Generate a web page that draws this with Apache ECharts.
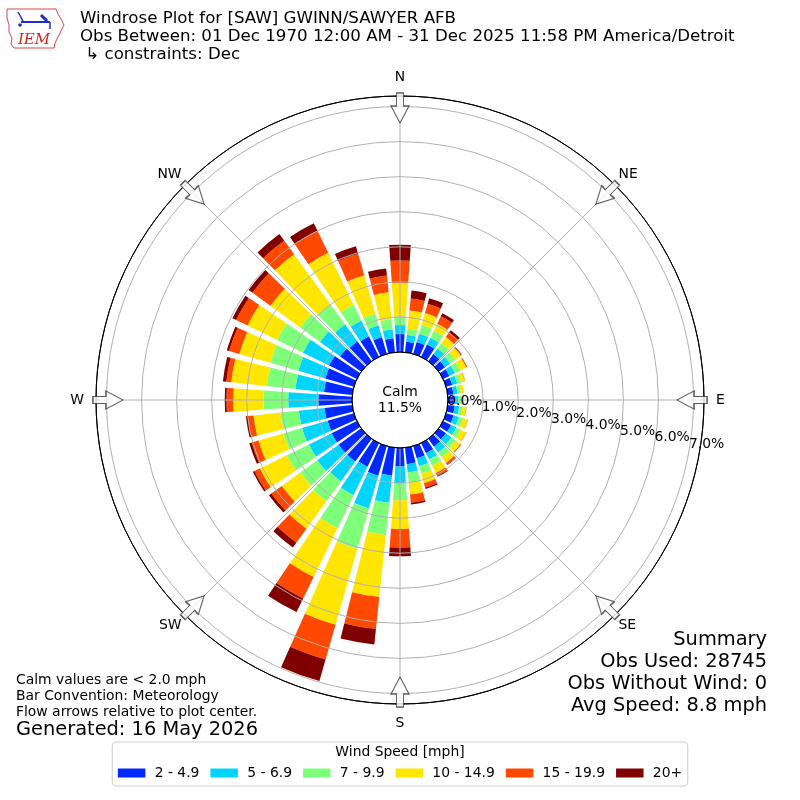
<!DOCTYPE html>
<html>
<head>
<meta charset="utf-8">
<script src="https://cdn.jsdelivr.net/npm/echarts@6/dist/echarts.min.js"></script>
<style>
html,body{margin:0;padding:0;background:#fff;}
#chart{width:800px;height:800px;}
</style>
</head>
<body>
<div id="chart"></div>
<script>
// ---- data (percent of all observations) ----
const directions = [0,10,20,30,40,50,60,70,80,90,100,110,120,130,140,150,160,170,
                    180,190,200,210,220,230,240,250,260,270,280,290,300,310,320,330,340,350];
const speedBins = ['2 - 4.9','5 - 6.9','7 - 9.9','10 - 14.9','15 - 19.9','20+'];
const binColors = ['#0028ff','#00d4ff','#7dff7a','#ffe600','#ff4800','#800000'];

const pct_2_49   = [0.51,0.30,0.35,0.39,0.25,0.22,0.20,0.18,0.16,0.17,0.20,0.22,0.25,0.25,0.28,0.32,0.36,0.47,
                    0.53,0.80,0.88,0.75,0.80,0.80,0.80,0.78,0.80,0.96,0.81,0.85,0.88,0.75,0.70,0.65,0.50,0.40];
const pct_5_69   = [0.26,0.20,0.25,0.22,0.20,0.18,0.18,0.15,0.12,0.13,0.13,0.16,0.17,0.20,0.20,0.20,0.24,0.24,
                    0.48,0.78,0.97,0.90,0.70,0.75,0.72,0.76,0.73,0.86,0.82,0.80,0.83,0.70,0.60,0.50,0.35,0.26];
const pct_7_99   = [0.24,0.18,0.26,0.22,0.18,0.18,0.17,0.12,0.10,0.08,0.09,0.12,0.14,0.15,0.17,0.20,0.22,0.29,
                    0.48,0.92,1.20,1.05,0.70,0.60,0.70,0.55,0.53,0.71,0.82,0.83,0.82,0.70,0.70,0.50,0.35,0.29];
const pct_10_149 = [0.96,0.52,0.35,0.22,0.22,0.20,0.19,0.11,0.09,0.07,0.11,0.14,0.17,0.16,0.20,0.23,0.28,0.34,
                    0.82,1.78,2.25,1.55,0.97,0.65,0.86,0.74,0.77,0.86,1.02,0.92,0.94,1.05,1.77,1.65,1.13,0.77];
const pct_15_199 = [0.64,0.34,0.28,0.24,0.16,0.03,0.03,0.01,0.00,0.01,0.01,0.01,0.01,0.03,0.07,0.10,0.13,0.24,
                    0.53,0.92,1.03,0.68,0.49,0.37,0.17,0.20,0.17,0.19,0.14,0.30,0.36,0.63,0.48,0.70,0.64,0.48];
const pct_20p    = [0.45,0.23,0.16,0.09,0.08,0.01,0.00,0.00,0.00,0.00,0.00,0.00,0.00,0.00,0.01,0.02,0.04,0.05,
                    0.25,0.44,0.64,0.43,0.17,0.08,0.05,0.07,0.05,0.05,0.10,0.07,0.12,0.14,0.23,0.24,0.22,0.20];
const binData = [pct_2_49, pct_5_69, pct_7_99, pct_10_149, pct_15_199, pct_20p];

const compassLabels = ['N','NE','E','SE','S','SW','W','NW'];
const arrowDirs = [0,45,90,135,180,225,270,315];
const radialMax = 7.3;
const radialInterval = 1;
const calmPct = 11.5;

const titleLines = [
  'Windrose Plot for [SAW] GWINN/SAWYER AFB',
  'Obs Between: 01 Dec 1970 12:00 AM - 31 Dec 2025 11:58 PM America/Detroit',
  ' \u21b3 constraints: Dec'
];
const noteLines = ['Calm values are < 2.0 mph','Bar Convention: Meteorology','Flow arrows relative to plot center.'];
const generatedText = 'Generated: 16 May 2026';
const summaryLines = ['Summary','Obs Used: 28745','Obs Without Wind: 0','Avg Speed: 8.8 mph'];
const legendTitle = 'Wind Speed [mph]';

// ---- chart ----
const FONT = 'DejaVu Sans';
const GRID = '#b0b0b0';
const arrowPath = 'path://M5.5,0 L12.5,0 L12.5,13 L18,13 L9,30 L0,13 L5.5,13 Z';
const arrowRadius = 6.96;
const pctLabel = (v)=> v.toFixed(1)+'%';
const isInt = (v)=> Math.abs(v-Math.round(v))<1e-6;

const chart = echarts.init(document.getElementById('chart'), null, {renderer:'canvas'});

const graphics = [];
titleLines.forEach((t,i)=>graphics.push({type:'text', x:80, y:19+i*18, z:10,
  style:{text:t, font:'16.65px "DejaVu Sans"', fill:'#000', align:'left', verticalAlign:'middle'}}));
noteLines.forEach((t,i)=>graphics.push({type:'text', x:16, y:680+i*16, z:10,
  style:{text:t, font:'13.9px "DejaVu Sans"', fill:'#000', align:'left', verticalAlign:'middle'}}));
graphics.push({type:'text', x:16, y:730, z:10,
  style:{text:generatedText, font:'19.4px "DejaVu Sans"', fill:'#000', align:'left', verticalAlign:'middle'}});
summaryLines.forEach((t,i)=>graphics.push({type:'text', x:767, y:640+i*22, z:10,
  style:{text:t, font:'19.4px "DejaVu Sans"', fill:'#000', align:'right', verticalAlign:'middle'}}));
graphics.push({type:'text', x:400, y:752, z:10,
  style:{text:legendTitle, font:'13.9px "DejaVu Sans"', fill:'#000', align:'center', verticalAlign:'middle'}});
graphics.push({type:'text', x:400, y:392, z:10,
  style:{text:'Calm', font:'13.9px "DejaVu Sans"', fill:'#000', align:'center', verticalAlign:'middle'}});
graphics.push({type:'text', x:400, y:408, z:10,
  style:{text:calmPct.toFixed(1)+'%', font:'13.9px "DejaVu Sans"', fill:'#000', align:'center', verticalAlign:'middle'}});
// IEM logo
graphics.push({type:'polygon', z:10, shape:{points:[[7,9],[56,9],[58,14],[61,19],[64,25],[61,31],[58,37],[55,43],[54,48],[14,48],[11,44],[12,38],[9,32],[9,25],[7,18]]},
  style:{fill:'none', stroke:'#d44', lineWidth:1}});
graphics.push({type:'line', z:10, shape:{x1:21,y1:22,x2:50,y2:22}, style:{stroke:'#1a2ccf', lineWidth:2}});
graphics.push({type:'line', z:10, shape:{x1:18,y1:12,x2:23,y2:21}, style:{stroke:'#1a2ccf', lineWidth:1.5}});
graphics.push({type:'line', z:10, shape:{x1:41,y1:15,x2:47,y2:21}, style:{stroke:'#1a2ccf', lineWidth:3}});
graphics.push({type:'line', z:10, shape:{x1:50,y1:22,x2:50,y2:29}, style:{stroke:'#1a2ccf', lineWidth:1.5}});
graphics.push({type:'circle', z:10, shape:{cx:20,cy:25,r:1.8}, style:{fill:'#1a2ccf'}});
graphics.push({type:'text', x:34, y:40, z:10,
  style:{text:'IEM', font:'italic 15px "DejaVu Serif"', fill:'#d22', align:'center', verticalAlign:'middle'}});

const series = speedBins.map((name,i)=>({
  name, type:'bar', coordinateSystem:'polar', polarIndex:0, stack:'wind',
  data: binData[i], barCategoryGap:'20%', itemStyle:{color:binColors[i]},
  emphasis:{disabled:true}, z:2, animation:false
}));
series.push({
  type:'scatter', coordinateSystem:'polar', polarIndex:1, z:8, animation:false,
  symbol: arrowPath, symbolSize:[18,30], symbolKeepAspect:false,
  itemStyle:{color:'#fff', borderColor:'#333', borderWidth:1.2},
  emphasis:{disabled:true}, silent:true,
  data: arrowDirs.map(a=>({value:[arrowRadius, a], symbolRotate:-a}))
});

const hiddenAngle = (idx, start)=>({polarIndex:idx, type:'value', min:0, max:360, interval:45, startAngle:start, clockwise:true,
  axisLine:{show:false}, axisTick:{show:false}, axisLabel:{show:false}, splitLine:{show:false}, splitArea:{show:false}});
const hiddenRadius = (idx)=>({polarIndex:idx, type:'value', min:0, max:radialMax, interval:radialInterval,
  axisLine:{show:false}, axisTick:{show:false}, axisLabel:{show:false}, splitLine:{show:false}, splitArea:{show:false}});
const P = {center:['50%','50%'], radius:[48,304]};

const option = {
  animation:false,
  textStyle:{fontFamily:FONT},
  polar:[P,P,P,P,P].map(p=>Object.assign({},p)),
  angleAxis:[
    {polarIndex:0, type:'category', data:directions.map(String), startAngle:95, clockwise:true,
     axisLine:{show:false}, axisTick:{show:false}, axisLabel:{show:false}, splitLine:{show:false}, splitArea:{show:false}},
    // grid spokes, outer circle and cardinal labels
    {polarIndex:1, type:'value', min:0, max:360, interval:45, startAngle:90, clockwise:true, z:5,
     axisLine:{show:true, lineStyle:{color:'#000', width:1}}, axisTick:{show:false},
     axisLabel:{show:true, margin:12, align:'center', verticalAlign:'middle', color:'#000', fontSize:13.9, fontFamily:FONT,
       formatter:(v)=> (v % 90 === 0 && v < 360) ? compassLabels[v/45] : ''},
     splitLine:{show:true, lineStyle:{color:GRID, width:1}}, splitArea:{show:false}},
    hiddenAngle(2, -10),
    hiddenAngle(3, -10),
    // diagonal compass labels
    {polarIndex:4, type:'value', min:0, max:360, interval:45, startAngle:90, clockwise:true, z:5,
     axisLine:{show:false}, axisTick:{show:false}, splitLine:{show:false}, splitArea:{show:false},
     axisLabel:{show:true, margin:5, align:'center', verticalAlign:'middle', color:'#000', fontSize:13.9, fontFamily:FONT,
       formatter:(v)=> (v % 90 === 45) ? compassLabels[(v-45)/45 + 1 > 7 ? 7 : Math.round(v/45)] : ''}}
  ],
  radiusAxis:[
    {polarIndex:0, type:'value', min:0, max:radialMax,
     axisLine:{show:false}, axisTick:{show:false}, axisLabel:{show:false}, splitLine:{show:false}, splitArea:{show:false}},
    {polarIndex:1, type:'value', min:0, max:radialMax, interval:radialInterval, z:5,
     axisLine:{show:false}, axisTick:{show:false}, axisLabel:{show:false},
     splitLine:{show:true, lineStyle:{color:['#000',GRID,GRID,GRID,GRID,GRID,GRID,GRID,'#000'], width:1}}, splitArea:{show:false}},
    // labels 1.0% .. 7.0%
    {polarIndex:2, type:'value', min:0, max:radialMax, interval:radialInterval, z:9,
     axisLine:{show:false}, axisTick:{show:false}, splitLine:{show:false}, splitArea:{show:false},
     axisLabel:{show:true, showMinLabel:false, margin:0, align:'left', verticalAlign:'bottom', color:'#000', fontSize:13.9, fontFamily:FONT,
       formatter:(v)=> (isInt(v) && v > 0) ? pctLabel(v) : ''}},
    // label 0.0%
    {polarIndex:3, type:'value', min:0, max:radialMax, interval:radialInterval, z:9,
     axisLine:{show:false}, axisTick:{show:false}, splitLine:{show:false}, splitArea:{show:false},
     axisLabel:{show:true, showMinLabel:true, margin:0, align:'left', verticalAlign:'bottom', color:'#000', fontSize:13.9, fontFamily:FONT,
       formatter:(v)=> (isInt(v) && Math.round(v) === 0) ? pctLabel(0) : ''}},
    hiddenRadius(4)
  ],
  legend:{
    data:speedBins, left:'center', top:742, orient:'horizontal', icon:'rect',
    itemWidth:27.5, itemHeight:9, itemGap:11, padding:[24,5.6,6,5.6],
    borderColor:'#cccccc', borderWidth:1, borderRadius:4, backgroundColor:'#fff',
    selectedMode:false,
    textStyle:{fontSize:13.9, color:'#000', fontFamily:FONT, padding:[0,0,0,4.3]}
  },
  tooltip:{show:false},
  graphic:graphics,
  series
};
chart.setOption(option);
</script>
</body>
</html>
